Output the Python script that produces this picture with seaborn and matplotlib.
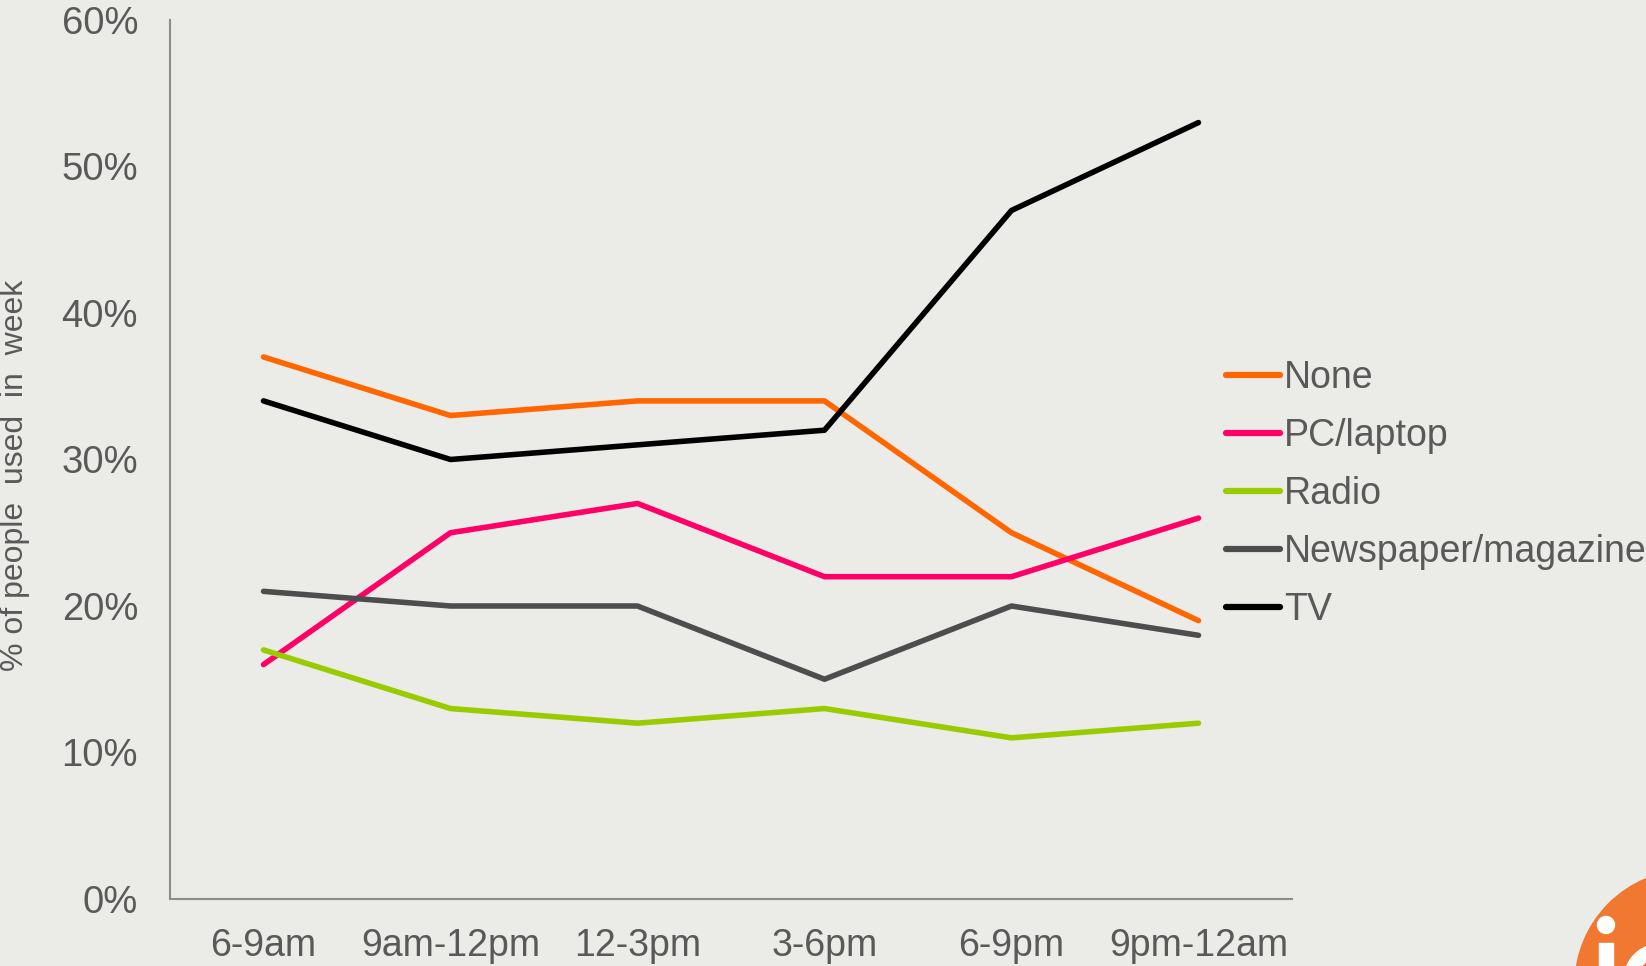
import matplotlib
matplotlib.use("Agg")
import matplotlib.pyplot as plt
from matplotlib.patches import Circle, Rectangle, Wedge
from matplotlib.ticker import FixedLocator, PercentFormatter
import seaborn as sns
import pandas as pd


time_slots = ["6-9am", "9am-12pm", "12-3pm", "3-6pm", "6-9pm", "9pm-12am"]
series_names = ["None", "PC/laptop", "Radio", "Newspaper/magazine", "TV"]

none_vals = [37, 33, 34, 34, 25, 19]
pc_vals = [16, 25, 27, 22, 22, 26]
radio_vals = [17, 13, 12, 13, 11, 12]
paper_vals = [21, 20, 20, 15, 20, 18]
tv_vals = [34, 30, 31, 32, 47, 53]

colors = {
    "None": "#FF6600",
    "PC/laptop": "#FF0066",
    "Radio": "#99CC00",
    "Newspaper/magazine": "#4D4D4D",
    "TV": "#000000",
}

rows = []
for name, vals in zip(series_names, [none_vals, pc_vals, radio_vals, paper_vals, tv_vals]):
    for slot, v in zip(time_slots, vals):
        rows.append({"slot": slot, "share": v, "device": name})
df = pd.DataFrame(rows)

sns.set_style("white")
plt.rcParams['font.family'] = ['Liberation Sans', 'DejaVu Sans']

bg = "#ebebe8"
text_col = "#595959"
axis_col = "#8c8c8c"

fig = plt.figure(figsize=(16.46, 9.66), dpi=100, facecolor=bg)

# logo in the corner (pixel coords on a full-figure axes)
logo = fig.add_axes([0, 0, 1, 1], zorder=0)
logo.set_xlim(0, 1646)
logo.set_ylim(966, 0)
logo.axis("off")
logo.add_patch(Circle((1690, 985), 115, color="#F07830"))
logo.add_patch(Circle((1606, 925), 8.5, color="white"))
logo.add_patch(Rectangle((1599, 943), 14, 40, color="white"))
logo.add_patch(Wedge((1660, 980), 36, 40, 320, width=13, color="white"))

ax = fig.add_axes([170 / 1646, 1 - 899 / 966, (1292 - 170) / 1646, (899 - 20) / 966], zorder=1)
ax.set_facecolor("none")

sns.lineplot(data=df, x="slot", y="share", hue="device", hue_order=series_names,
             palette=colors, sort=False, linewidth=4, ax=ax, legend=True)

ax.set_xlim(-0.5, 5.5)
ax.set_ylim(0, 60)
ax.yaxis.set_major_locator(FixedLocator(range(0, 61, 10)))
ax.yaxis.set_major_formatter(PercentFormatter(decimals=0))

# ticks between categories, labels in the middle (excel style)
ax.xaxis.set_major_locator(FixedLocator([i - 0.5 for i in range(7)]))
ax.set_xticklabels([""] * 7)
ax.xaxis.set_minor_locator(FixedLocator(range(6)))
ax.set_xticklabels(time_slots, minor=True)
ax.tick_params(axis="x", which="minor", length=0, pad=21, labelsize=27, labelcolor=text_col)
ax.tick_params(axis="x", which="major", length=9, width=1.5, color=axis_col, direction="out")
ax.tick_params(axis="y", length=9, width=1.5, color=axis_col, direction="out",
               labelsize=27.5, labelcolor=text_col, pad=14)

for side in ["top", "right"]:
    ax.spines[side].set_visible(False)
for side in ["left", "bottom"]:
    ax.spines[side].set_color(axis_col)
    ax.spines[side].set_linewidth(1.5)

ax.set_xlabel("")
ax.set_ylabel("")
fig.text(15 / 1646, 1 - 475 / 966, "% of people  used  in  week", rotation=90,
         ha="center", va="center", fontsize=23, color=text_col)

# legend on the right
handles, labels = ax.get_legend_handles_labels()
ax.get_legend().remove()
leg = fig.legend(handles, labels, loc="center left", bbox_to_anchor=(1226 / 1646, 1 - 494 / 966),
                 frameon=False, fontsize=27, handlelength=1.45, handletextpad=0.1,
                 labelspacing=0.59, borderpad=0, borderaxespad=0)
for t in leg.get_texts():
    t.set_color(text_col)
for h in leg.get_lines():
    h.set_linewidth(4.5)

fig.savefig("out.png", dpi=100, facecolor=bg)
